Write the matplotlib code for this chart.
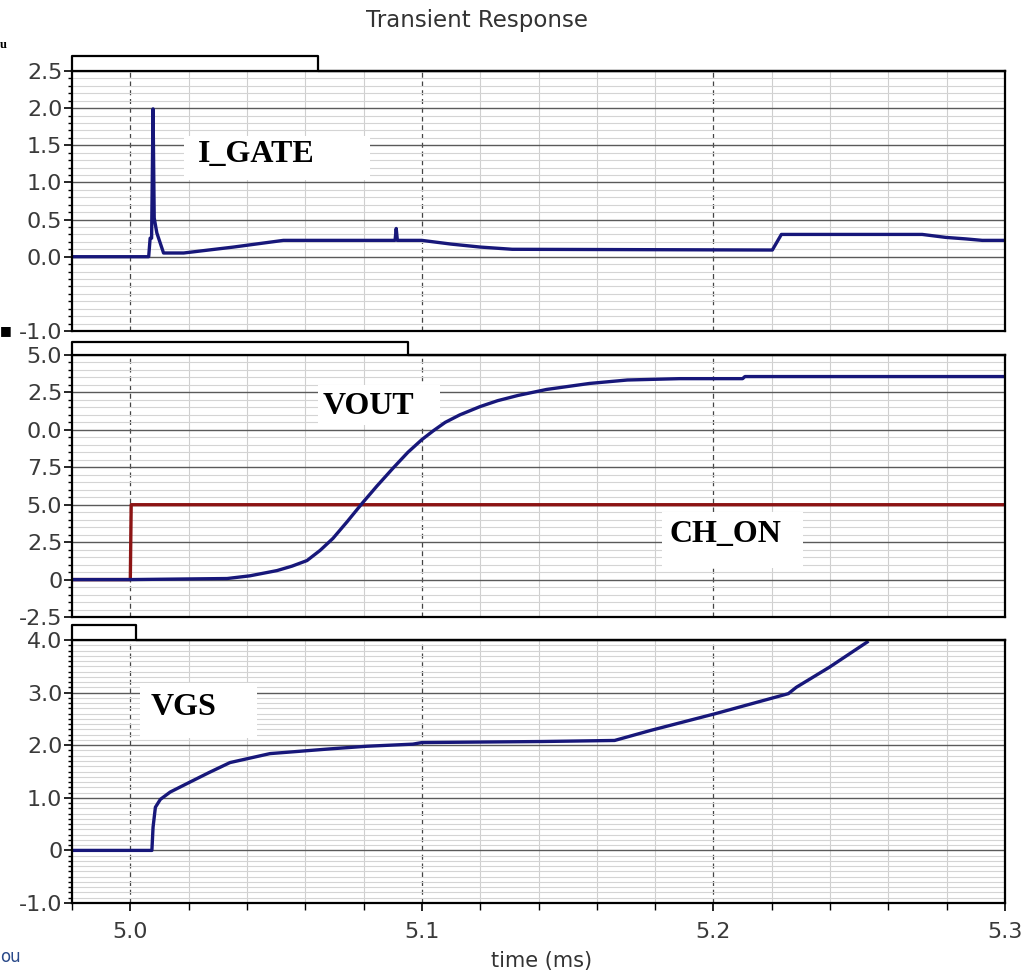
import matplotlib
matplotlib.use('Agg')
import matplotlib.pyplot as plt
from matplotlib.ticker import MultipleLocator
from matplotlib.patches import Rectangle
from matplotlib.lines import Line2D

# time axis (ms)
t_igate = [4.98, 5.0063, 5.0068, 5.0073, 5.0078, 5.0082, 5.0091, 5.0114, 5.0183,
           5.0354, 5.0525, 5.0908, 5.0912, 5.0916, 5.1, 5.11, 5.12, 5.131,
           5.2202, 5.2233, 5.2716, 5.2797, 5.2865, 5.2922, 5.3]
i_gate = [0.0, 0.0, 0.25, 0.25, 1.99, 0.52, 0.32, 0.05, 0.05,
          0.13, 0.22, 0.22, 0.38, 0.22, 0.22, 0.17, 0.13, 0.10,
          0.09, 0.30, 0.30, 0.26, 0.24, 0.22, 0.22]

t_vout = [4.98, 5.0, 5.0332, 5.041, 5.0503, 5.0555, 5.0606, 5.0651, 5.0695, 5.0743,
          5.0795, 5.0846, 5.0901, 5.0952, 5.1, 5.1040, 5.1080, 5.1130, 5.1199,
          5.1260, 5.1330, 5.1428, 5.1575, 5.1705, 5.1884, 5.2100, 5.2108, 5.3]
vout = [0.0, 0.0, 0.07, 0.25, 0.6, 0.9, 1.27, 1.95, 2.75, 3.85,
        5.09, 6.25, 7.44, 8.5, 9.35, 9.95, 10.5, 11.0, 11.55,
        11.95, 12.3, 12.7, 13.1, 13.33, 13.42, 13.42, 13.56, 13.56]

t_chon = [4.98, 5.0, 5.0003, 5.3]
ch_on = [0.0, 0.0, 5.0, 5.0]

t_vgs = [4.98, 5.0074, 5.0078, 5.0086, 5.0103, 5.0137, 5.0205, 5.027, 5.0342, 5.0479,
         5.0685, 5.0811, 5.0969, 5.1, 5.1411, 5.1661, 5.1784, 5.2007, 5.2257,
         5.2284, 5.2397, 5.2527]
vgs = [0.0, 0.0, 0.44, 0.82, 0.97, 1.11, 1.30, 1.48, 1.67, 1.84,
       1.93, 1.98, 2.02, 2.05, 2.07, 2.09, 2.28, 2.60, 2.98,
       3.10, 3.48, 3.96]

# tick values / labels as shown on the plot
ig_ticks = [-1.0, 0.0, 0.5, 1.0, 1.5, 2.0, 2.5]
ig_labels = ['-1.0', '0.0', '0.5', '1.0', '1.5', '2.0', '2.5']
vo_ticks = [-2.5, 0, 2.5, 5.0, 7.5, 10.0, 12.5, 15.0]
vo_labels = ['-2.5', '0', '2.5', '5.0', '7.5', '0.0', '2.5', '5.0']
vg_ticks = [-1.0, 0, 1.0, 2.0, 3.0, 4.0]
vg_labels = ['-1.0', '0', '1.0', '2.0', '3.0', '4.0']
x_ticks = [5.0, 5.1, 5.2, 5.3]
x_labels = ['5.0', '5.1', '5.2', '5.3']

W, H = 1033, 974
fig = plt.figure(figsize=(W / 100, H / 100), dpi=100)
fig.patch.set_facecolor('white')

NAVY = '#17177a'
RED = '#8c1414'
TICKC = '#3a3a3a'


def px_axes(top, bottom):
    return fig.add_axes([72 / W, 1 - bottom / H, 933 / W, (bottom - top) / H])


def style(ax, ylim, yt, yl, yminor, show_x):
    ax.set_xlim(4.98, 5.3)
    ax.set_ylim(*ylim)
    ax.set_yticks(yt)
    ax.set_yticklabels(yl)
    ax.yaxis.set_minor_locator(MultipleLocator(yminor))
    ax.set_xticks(x_ticks)
    ax.xaxis.set_minor_locator(MultipleLocator(0.02))
    ax.set_axisbelow(True)
    ax.grid(which='major', axis='y', color='#5a5a5a', lw=1.0)
    ax.grid(which='minor', axis='y', color='#d4d4d4', lw=0.8)
    ax.grid(which='major', axis='x', color='#444444', lw=0.9, ls=(0, (4, 3)))
    ax.grid(which='minor', axis='x', color='#cfcfcf', lw=0.8)
    for s in ax.spines.values():
        s.set_linewidth(1.6)
        s.set_color('black')
    ax.tick_params(axis='y', which='major', direction='out', length=6, width=1.2,
                   pad=1, labelsize=16, labelcolor=TICKC)
    ax.tick_params(axis='y', which='minor', direction='out', length=3, width=1.0)
    if show_x:
        ax.set_xticklabels(x_labels)
        ax.tick_params(axis='x', which='major', direction='out', length=6, width=1.2,
                       pad=8, labelsize=16, labelcolor=TICKC)
        ax.tick_params(axis='x', which='minor', direction='out', length=5, width=1.0)
    else:
        ax.tick_params(axis='x', which='both', length=0, labelbottom=False)


def tab(ax, xfrac, hpx, axh):
    hy = 1 + hpx / axh
    ax.add_line(Line2D([0, 0, xfrac, xfrac, 1], [1, hy, hy, 1, 1],
                       transform=ax.transAxes, color='black', lw=1.6, clip_on=False))


def label(ax, x0, x1, y0, y1, tx, ty, s):
    ax.add_patch(Rectangle((x0, y0), x1 - x0, y1 - y0, transform=ax.transAxes,
                           facecolor='white', edgecolor='none', zorder=1.2))
    ax.text(tx, ty, s, transform=ax.transAxes, ha='center', va='center',
            fontsize=23, fontweight='bold', family='Liberation Serif', zorder=3)


# panel 1: I_GATE
ax1 = px_axes(71, 331)
style(ax1, (-1.0, 2.5), ig_ticks, ig_labels, 0.1, False)
ax1.plot(t_igate, i_gate, color=NAVY, lw=2.4, zorder=2)
tab(ax1, 0.2637, 15, 260)
label(ax1, 0.120, 0.319, 0.581, 0.75, 0.197, 0.677, 'I_GATE')

# panel 2: VOUT / CH_ON
ax2 = px_axes(355, 617)
style(ax2, (-2.5, 15.0), vo_ticks, vo_labels, 0.5, False)
ax2.plot(t_chon, ch_on, color=RED, lw=2.4, zorder=2)
ax2.plot(t_vout, vout, color=NAVY, lw=2.4, zorder=2.1)
tab(ax2, 0.360, 13, 262)
label(ax2, 0.2637, 0.3944, 0.733, 0.885, 0.318, 0.805, 'VOUT')
label(ax2, 0.632, 0.7835, 0.187, 0.401, 0.700, 0.313, 'CH_ON')

# panel 3: VGS
ax3 = px_axes(640, 903)
style(ax3, (-1.0, 4.0), vg_ticks, vg_labels, 0.1, True)
ax3.plot(t_vgs, vgs, color=NAVY, lw=2.4, zorder=2)
tab(ax3, 0.0686, 15, 263)
label(ax3, 0.0729, 0.198, 0.627, 0.837, 0.120, 0.745, 'VGS')

fig.text(477 / W, 1 - 21 / H, 'Transient Response', ha='center', va='center',
         fontsize=16.5, color='#333333')
fig.text(542 / W, 1 - 961 / H, 'time (ms)', ha='center', va='center',
         fontsize=15, color='#333333')

# small fragments at the left edge of the picture
fig.text(0, 1 - 45 / H, 'u', ha='left', va='center', fontsize=9,
         fontweight='bold', family='Liberation Serif')
fig.text(0, 1 - 331 / H, '\u25a0', ha='left', va='center', fontsize=9)
fig.text(0, 1 - 957 / H, 'ou', ha='left', va='center', fontsize=12,
         color='#2a4a8a')

fig.savefig('out.png', dpi=100)
